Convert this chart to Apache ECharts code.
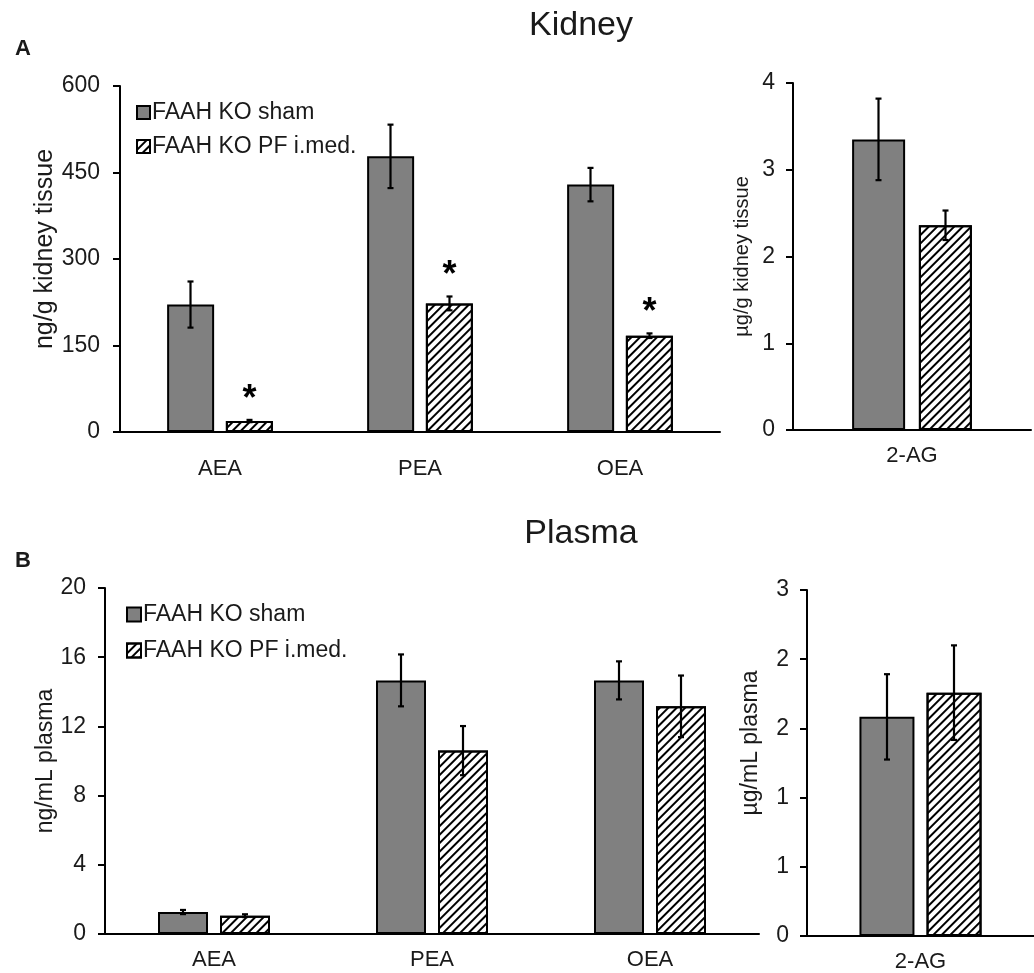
<!DOCTYPE html>
<html><head><meta charset="utf-8">
<script src="https://cdn.jsdelivr.net/npm/echarts@6/dist/echarts.min.js"></script>
<style>html,body{margin:0;padding:0;background:#fff}#c{width:1034px;height:973px}</style>
</head><body><div id="c"></div>
<script>
// ---- data ----
const categories = ['AEA', 'PEA', 'OEA'];
const categories2AG = ['2-AG'];
const seriesNames = ['FAAH KO sham', 'FAAH KO PF i.med.'];

const kidneyShamMean = [221, 478, 429];
const kidneyShamErr  = [40, 55, 29];
const kidneyPFMean   = [19, 223, 167];
const kidneyPFErr    = [2, 12, 4];
const kidneySig      = [true, true, true];

const kidney2AGShamMean = [3.35];
const kidney2AGShamErr  = [0.47];
const kidney2AGPFMean   = [2.36];
const kidney2AGPFErr    = [0.17];

const plasmaShamMean = [1.27, 14.66, 14.66];
const plasmaShamErr  = [0.12, 1.5, 1.1];
const plasmaPFMean   = [1.06, 10.6, 13.16];
const plasmaPFErr    = [0.08, 1.42, 1.78];

const plasma2AGShamMean = [1.90];
const plasma2AGShamErr  = [0.37];
const plasma2AGPFMean   = [2.11];
const plasma2AGPFErr    = [0.41];

// ---- chart ----
const FONT = 'Liberation Sans, Arial, sans-serif';
const TXT = '#1a1a1a';
const chart = echarts.init(document.getElementById('c'), null, {renderer: 'canvas'});

const hatch = {
  symbol: 'rect', symbolSize: 1, color: '#000',
  dashArrayX: [1, 0], dashArrayY: [2, 3.2], rotation: -Math.PI / 4
};

function barSeries(gi, name, data, isPF, barWidth, barGap) {
  return {
    type: 'bar', name: name, xAxisIndex: gi, yAxisIndex: gi,
    data: data, barWidth: barWidth, barGap: barGap,
    itemStyle: isPF ? {color: '#fff', borderColor: '#000', borderWidth: 2, decal: hatch}
                    : {color: '#808080', borderColor: '#000', borderWidth: 2},
    emphasis: {disabled: true}, animation: false, z: 2
  };
}

function errSeries(gi, means, errs, offset, sig) {
  const data = means.map((m, i) => [i, m, errs[i], sig ? (sig[i] ? 1 : 0) : 0]);
  return {
    type: 'custom', xAxisIndex: gi, yAxisIndex: gi, data: data, z: 5, animation: false,
    silent: true,
    renderItem: function (params, api) {
      const i = api.value(0), m = api.value(1), e = api.value(2), s = api.value(3);
      const top = api.coord([i, m + e]);
      const bot = api.coord([i, m - e]);
      const x = top[0] + offset;
      const cap = 3;
      const children = [
        {type: 'line', shape: {x1: x, y1: top[1], x2: x, y2: bot[1]}, style: {stroke: '#000', lineWidth: 2.2}},
        {type: 'line', shape: {x1: x - cap, y1: top[1], x2: x + cap, y2: top[1]}, style: {stroke: '#000', lineWidth: 2.2}},
        {type: 'line', shape: {x1: x - cap, y1: bot[1], x2: x + cap, y2: bot[1]}, style: {stroke: '#000', lineWidth: 2.2}}
      ];
      if (s) {
        children.push({type: 'text', x: x, y: top[1] - 2,
          style: {text: '*', fill: '#000', font: 'bold 36px ' + FONT, textAlign: 'center', textVerticalAlign: 'bottom'}});
      }
      return {type: 'group', children: children};
    }
  };
}

function yAxis(gi, max, interval, name, nameGap, nameSize, margin, shiftUp, fmt) {
  return {
    type: 'value', gridIndex: gi, min: 0, max: max, interval: interval,
    name: name, nameLocation: 'middle', nameGap: nameGap, nameMoveOverlap: false,
    nameTextStyle: {color: TXT, fontSize: nameSize, fontFamily: FONT, padding: [0, 0, 0, shiftUp * 2]},
    axisLine: {show: true, lineStyle: {color: '#000', width: 2}},
    axisTick: {show: true, length: 7, lineStyle: {color: '#000', width: 2}},
    axisLabel: {color: TXT, fontSize: 23, fontFamily: FONT, margin: margin, formatter: fmt},
    splitLine: {show: false}
  };
}

function xAxis(gi, cats, margin) {
  return {
    type: 'category', gridIndex: gi, data: cats,
    axisLine: {show: true, lineStyle: {color: '#000', width: 2}},
    axisTick: {show: false},
    axisLabel: {color: TXT, fontSize: 22, fontFamily: FONT, margin: margin}
  };
}

const option = {
  backgroundColor: '#fff',
  animation: false,
  title: [
    {text: 'Kidney', left: 576, top: 4, textAlign: 'center', textStyle: {fontSize: 34, fontWeight: 'normal', color: TXT, fontFamily: FONT}},
    {text: 'A', left: 10, top: 33, textStyle: {fontSize: 22, fontWeight: 'bold', color: TXT, fontFamily: FONT}},
    {text: 'Plasma', left: 576, top: 512, textAlign: 'center', textStyle: {fontSize: 34, fontWeight: 'normal', color: TXT, fontFamily: FONT}},
    {text: 'B', left: 10, top: 545, textStyle: {fontSize: 22, fontWeight: 'bold', color: TXT, fontFamily: FONT}}
  ],
  legend: [
    {data: seriesNames, orient: 'vertical', left: 131, top: 96, icon: 'rect', itemWidth: 13, itemHeight: 13,
     itemGap: 11, itemStyle: {borderColor: '#000', borderWidth: 2},
     textStyle: {color: TXT, fontSize: 23, fontFamily: FONT, padding: [0, 0, 0, -3]}, selectedMode: false},
    {data: seriesNames, orient: 'vertical', left: 121, top: 598, icon: 'rect', itemWidth: 14, itemHeight: 14,
     itemGap: 13, itemStyle: {borderColor: '#000', borderWidth: 2},
     textStyle: {color: TXT, fontSize: 23, fontFamily: FONT, padding: [0, 0, 0, -3]}, selectedMode: false}
  ],
  grid: [
    {left: 120, right: 314, top: 86, height: 346},
    {left: 793, right: 3, top: 83, height: 347},
    {left: 105, right: 275, top: 588, height: 346},
    {left: 807, right: -11, top: 590, height: 347}
  ],
  xAxis: [xAxis(0, categories, 26), xAxis(1, categories2AG, 15), xAxis(2, categories, 15), xAxis(3, categories2AG, 15)],
  yAxis: [
    yAxis(0, 600, 150, 'ng/g kidney tissue', 62, 25, 20, 10),
    yAxis(1, 4, 1, 'µg/g kidney tissue', 41, 20, 18, 0),
    yAxis(2, 20, 4, 'ng/mL plasma', 48, 23, 19, 0),
    yAxis(3, 3, 0.6, 'µg/mL plasma', 45, 23, 18, 20, v => String(Math.round(v)))
  ],
  series: [
    barSeries(0, seriesNames[0], kidneyShamMean, false, 47, '25%'),
    barSeries(0, seriesNames[1], kidneyPFMean, true, 47, '25%'),
    errSeries(0, kidneyShamMean, kidneyShamErr, -29.5),
    errSeries(0, kidneyPFMean, kidneyPFErr, 29.5, kidneySig),

    barSeries(1, seriesNames[0], kidney2AGShamMean, false, 53, '26%'),
    barSeries(1, seriesNames[1], kidney2AGPFMean, true, 53, '26%'),
    errSeries(1, kidney2AGShamMean, kidney2AGShamErr, -33.5),
    errSeries(1, kidney2AGPFMean, kidney2AGPFErr, 33.5),

    barSeries(2, seriesNames[0], plasmaShamMean, false, 50, '24%'),
    barSeries(2, seriesNames[1], plasmaPFMean, true, 50, '24%'),
    errSeries(2, plasmaShamMean, plasmaShamErr, -31),
    errSeries(2, plasmaPFMean, plasmaPFErr, 31),

    barSeries(3, seriesNames[0], plasma2AGShamMean, false, 55, '22%'),
    barSeries(3, seriesNames[1], plasma2AGPFMean, true, 55, '22%'),
    errSeries(3, plasma2AGShamMean, plasma2AGShamErr, -33.5),
    errSeries(3, plasma2AGPFMean, plasma2AGPFErr, 33.5)
  ]
};
chart.setOption(option);
</script>
</body></html>
